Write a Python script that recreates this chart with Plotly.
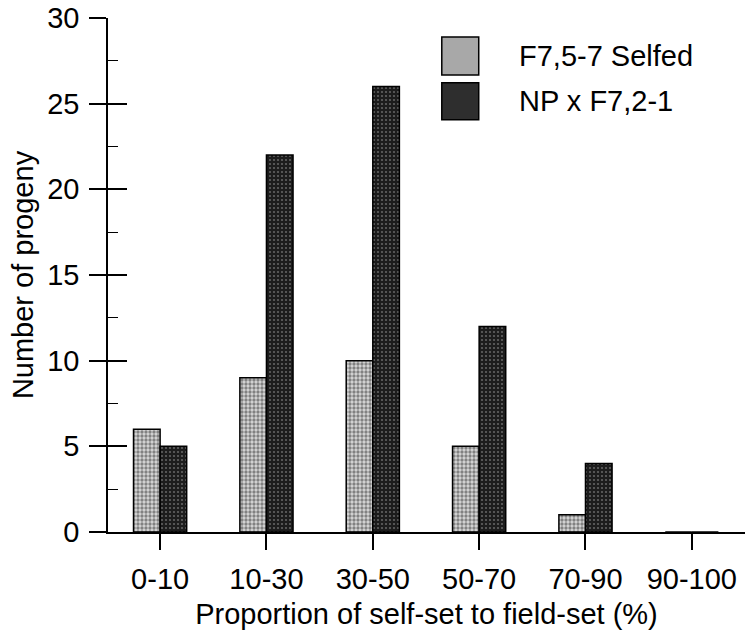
import plotly.graph_objects as go

categories = ["0-10", "10-30", "30-50", "50-70", "70-90", "90-100"]
selfed = [6, 9, 10, 5, 1, 0]
cross = [5, 22, 26, 12, 4, 0]
series_names = ["F7,5-7 Selfed", "NP x F7,2-1"]
y_ticks = [0, 5, 10, 15, 20, 25, 30]

FONT = "Liberation Sans, Arial, sans-serif"

fig = go.Figure()
fig.add_trace(go.Bar(
    x=categories, y=selfed, name=series_names[0], showlegend=False,
    marker=dict(color="#ffffff", line=dict(color="#000000", width=1.5),
                pattern=dict(shape=".", fgcolor="#2a2a2a", bgcolor="#d8d8d8",
                             size=4, solidity=0.55)),
))
fig.add_trace(go.Bar(
    x=categories, y=cross, name=series_names[1], showlegend=False,
    marker=dict(color="#202020", line=dict(color="#000000", width=1.5),
                pattern=dict(shape=".", fgcolor="#a8a8a8", bgcolor="#1c1c1c",
                             size=4, solidity=0.22)),
))
# helper trace for the inside part of the y ticks
fig.add_trace(go.Scatter(x=categories, y=[None] * len(categories), yaxis="y2",
                         showlegend=False, hoverinfo="skip", mode="markers"))

fig.update_layout(
    width=746, height=634,
    margin=dict(l=108, r=1, t=18, b=102),
    paper_bgcolor="white", plot_bgcolor="white",
    barmode="group", bargap=0.5, bargroupgap=0,
    font=dict(family=FONT, size=29, color="black"),
    showlegend=False,
    xaxis=dict(
        type="category", range=[-0.49, 5.5], automargin=False,
        showline=True, linecolor="black", linewidth=1.5,
        ticks="outside", ticklen=16, tickwidth=1.5, tickcolor="black",
        showgrid=False, zeroline=False,
        tickfont=dict(size=29), ticklabelstandoff=4,
        title=dict(text="Proportion of self-set to field-set (%)",
                   font=dict(size=29), standoff=10),
    ),
    yaxis=dict(
        range=[0, 30], tickvals=y_ticks, automargin=False,
        showline=True, linecolor="black", linewidth=1.5,
        ticks="outside", ticklen=17, tickwidth=1.5, tickcolor="black",
        showgrid=False, zeroline=False,
        tickfont=dict(size=29), ticklabelstandoff=4,
        title=dict(text="Number of progeny", font=dict(size=29), standoff=5),
    ),
    yaxis2=dict(
        range=[0, 30], overlaying="y", side="left", anchor="x",
        tickvals=y_ticks, showticklabels=False, automargin=False,
        ticks="inside", ticklen=19, tickwidth=1.5, tickcolor="black",
        minor=dict(dtick=2.5, ticks="inside", ticklen=10, tickwidth=1.2,
                   tickcolor="black"),
        showgrid=False, zeroline=False, showline=False,
    ),
)

# custom legend
swatches = [("#a8a8a8", 0.963, 0.889, 0.926), ("#2e2e2e", 0.874, 0.802, 0.839)]
for (col, y1, y0, ty), name in zip(swatches, series_names):
    fig.add_shape(type="rect", xref="paper", yref="paper",
                  x0=0.524, x1=0.582, y0=y0, y1=y1,
                  fillcolor=col, line=dict(color="black", width=1.5))
    fig.add_annotation(text=name, xref="paper", yref="paper", x=0.642, y=ty,
                       xanchor="left", yanchor="middle", showarrow=False,
                       font=dict(size=29))

fig.write_html("out.html",
               config={"displayModeBar": False},
               post_script="document.body.style.margin='0px';"
                           "document.body.style.overflow='hidden';")
